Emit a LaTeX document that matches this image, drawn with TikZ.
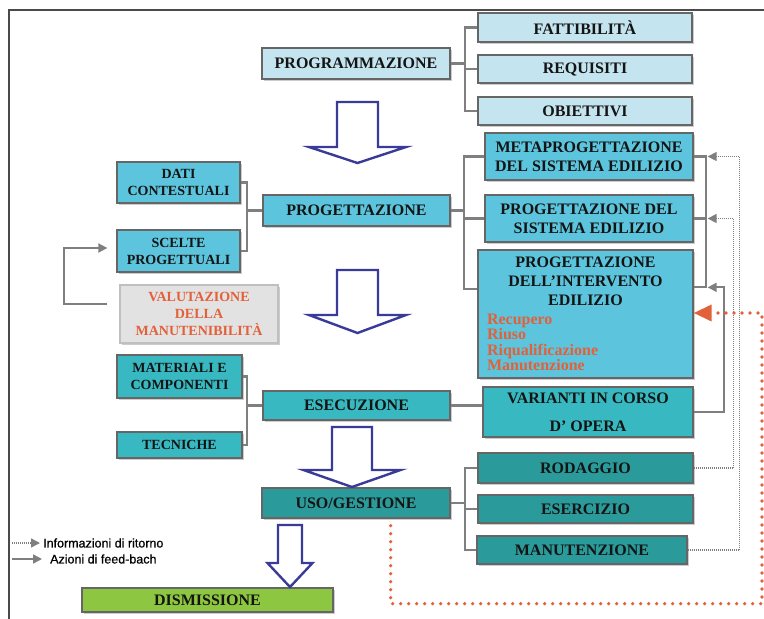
\documentclass[tikz,border=0pt]{standalone}
\usepackage{fontspec}
\setmainfont{Liberation Serif}
\newfontfamily\legendfont[FakeBold=0.7]{Liberation Sans}
\usetikzlibrary{arrows.meta,shadows,calc}

\definecolor{paleblue}{HTML}{C4E4EF}
\definecolor{skycyan}{HTML}{5CC5DD}
\definecolor{aqua}{HTML}{38B9C1}
\definecolor{deepteal}{HTML}{2A9A9B}
\definecolor{leaf}{HTML}{8DC641}
\definecolor{edgegray}{HTML}{666666}
\definecolor{wire}{HTML}{7F7F7F}
\definecolor{navy}{HTML}{3A3A98}
\definecolor{rust}{HTML}{E2603A}
\definecolor{framegray}{HTML}{4A4A4A}
\definecolor{softgray}{HTML}{E2E2E2}

\tikzset{
  pics/downarrow/.style n args={4}{code={
    \draw[bigarrow] (-#1,0) -- (#1,0) -- (#1,#3) -- (#2,#3) -- (0,#4)
      -- (-#2,#3) -- (-#1,#3) -- cycle;}}
}

\begin{document}
\begin{tikzpicture}[x=1pt,y=-1pt,
  box/.style={draw=edgegray, line width=1.3pt, inner sep=0pt, align=center,
    text=black!92,
    drop shadow={shadow xshift=2pt, shadow yshift=-2pt, opacity=.4},
    font=\bfseries\fontsize{16}{19}\selectfont},
  small/.style={font=\bfseries\fontsize{14}{17}\selectfont},
  wh/.style 2 args={minimum width=#1pt, minimum height=#2pt},
  conn/.style={draw=wire, line width=2.2pt},
  info/.style={draw=wire!90, line width=1.4pt, dash pattern=on 1pt off 1pt},
  tipg/.style={-{Triangle[length=9pt,width=9pt]}, color=wire},
  redpath/.style={draw=rust, line width=3.6pt, line cap=round,
    dash pattern=on 0pt off 8pt},
  bigarrow/.style={draw=navy, line width=2.4pt, fill=white, line join=miter},
  legend/.style={font=\legendfont\fontsize{12.5}{14}\selectfont, inner sep=3pt, anchor=west},
]
\useasboundingbox (0,0) rectangle (764,619);
\fill[white] (0,0) rectangle (764,619);

% outer frame
\draw[framegray, line width=2pt] (8.5,619) -- (8.5,10) -- (764,10);

% ---- programmazione
\node[box, fill=paleblue, wh={188}{31}] (prog) at (356,63.5) {PROGRAMMAZIONE};
\node[box, fill=paleblue, wh={214}{29}] (fatt) at (585,27.5) {FATTIBILITÀ};
\node[box, fill=paleblue, wh={214}{28}] (req) at (585,69) {REQUISITI};
\node[box, fill=paleblue, wh={214}{28}] (obi) at (585,111) {OBIETTIVI};

% ---- progettazione
\node[box, fill=skycyan, wh={187}{31}] (progett) at (356.5,210.5) {PROGETTAZIONE};
\node[box, small, fill=skycyan, wh={123}{41}] (dati) at (178.5,182.5) {DATI\\CONTESTUALI};
\node[box, small, fill=skycyan, wh={123}{42}] (scelte) at (178.5,251) {SCELTE\\PROGETTUALI};
\node[box, small, fill=softgray, draw=black!25, text=rust, wh={158}{58}] (valut) at (199,314)
  {VALUTAZIONE\\DELLA\\MANUTENIBILITÀ};
\node[box, fill=skycyan, wh={208}{47}] (meta) at (589,156.5) {METAPROGETTAZIONE\\DEL SISTEMA EDILIZIO};
\node[box, fill=skycyan, wh={208}{47}] (psis) at (589,218.5) {PROGETTAZIONE DEL\\SISTEMA EDILIZIO};
\node[box, fill=skycyan, wh={215}{128}] (pint) at (585.5,314)
  {\parbox{197pt}{\centering PROGETTAZIONE\\DELL’INTERVENTO\\EDILIZIO\par
   \vspace{3.5pt}\raggedright\color{rust}\fontsize{16}{15.5}\selectfont
   Recupero\\Riuso\\Riqualificazione\\Manutenzione\par}};

% ---- esecuzione
\node[box, fill=aqua, wh={187}{29}] (esec) at (356.5,405.5) {ESECUZIONE};
\node[box, small, fill=aqua, wh={125}{43}] (mat) at (179.5,376.5) {MATERIALI E\\COMPONENTI};
\node[box, small, fill=aqua, wh={125}{26}] (tec) at (179.5,445) {TECNICHE};
\node[box, fill=aqua, wh={210}{50}] (var) at (588,412) {VARIANTI IN CORSO\\[9pt]D’ OPERA};

% ---- uso / gestione
\node[box, fill=deepteal, wh={188}{30}] (uso) at (356,503) {USO/GESTIONE};
\node[box, fill=deepteal, wh={215}{30}] (rod) at (585.5,468) {RODAGGIO};
\node[box, fill=deepteal, wh={215}{28}] (ese) at (585.5,509) {ESERCIZIO};
\node[box, fill=deepteal, wh={210}{28}] (man) at (582,550) {MANUTENZIONE};

% ---- dismissione
\node[box, fill=leaf, wh={251}{24}] (dism) at (207.5,600) {DISMISSIONE};

% ---- phase arrows
\pic at (357.5,102) {downarrow={20.5}{48.5}{45}{61}};
\pic at (357.5,270) {downarrow={20.5}{48.5}{45}{63}};
\pic at (352,427) {downarrow={20}{48.5}{43}{60}};
\pic at (290,525) {downarrow={12}{22.5}{38}{62}};

% ---- tree connectors
\foreach \c in {fatt,req,obi}
  \draw[conn] (prog.east) -- ++(14,0) |- (\c.west);
\foreach \c in {meta,psis}
  \draw[conn] (progett.east) -- ++(13,0) |- (\c.west);
\draw[conn] (progett.east) -- ++(13,0) |- ($(pint.north west)+(0,40)$);
\foreach \c in {dati,scelte}
  \draw[conn] (progett.west) -- ++(-15,0) |- (\c.east);
\foreach \c in {mat,tec}
  \draw[conn] (esec.west) -- ++(-15,0) |- (\c.east);
\draw[conn] (esec.east) -- (esec.east -| var.west);
\foreach \c in {rod,ese,man}
  \draw[conn] (uso.east) -- ++(14,0) |- (\c.west);

% right-hand collector of the design boxes
\coordinate (rb1) at ($(meta.east)+(12,0)$);
\coordinate (rb2) at ($(psis.east)+(12,0)$);
\coordinate (rb3) at ($(pint.north east)+(12,38)$);
\draw[conn] (meta.east) -- (rb1) -- (rb3) -- (rb3 -| pint.east);
\draw[conn] (psis.east) -- (rb2);

% return information (dotted) and feedback actions (solid)
\draw[info, tipg] (man.east) -| ($(rb1)+(34,0)$) -- ($(rb1)+(2,0)$);
\draw[info, tipg] (rod.east) -| ($(rb2)+(28,0)$) -- ($(rb2)+(2,0)$);
\draw[conn, line width=1.8pt, tipg] (var.east) -| ($(rb3)+(18,0)$) -- ($(rb3)+(2,0)$);
\draw[conn, line width=1.8pt, tipg] ($(valut.west)+(-12,-10)$) -- ++(-43,0)
  |- ($(scelte.west)+(-9,-3)$);

% maintenance loop back to the intervention design
\coordinate (r0) at ($(uso.south east)+(-60,7)$);
\draw[redpath, -{Triangle[length=18pt,width=16pt,fill=rust]}, rust]
  (r0) -- ++(0,78) -| (762,313) -- (pint.east |- 0,313);

% legend
\node[legend] (li) at (40,543) {Informazioni di ritorno};
\node[legend] (la) at (47,559) {Azioni di feed-bach};
\coordinate (li0) at (12,543);
\coordinate (la0) at (12,559);
\draw[info, tipg] (li0) -- (li.west);
\draw[conn, line width=1.6pt, tipg, shorten >=5pt] (la0) -- (la.west);
\end{tikzpicture}
\end{document}
